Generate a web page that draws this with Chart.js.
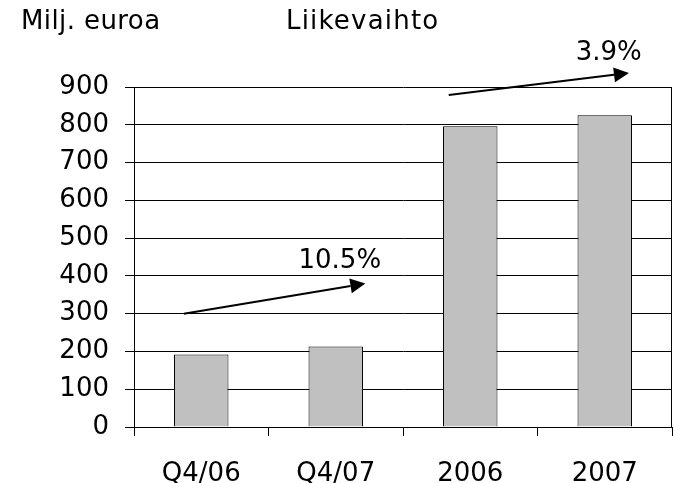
<!DOCTYPE html>
<html><head><meta charset="utf-8">
<script src="https://cdn.jsdelivr.net/npm/chart.js@4"></script>
<style>html,body{margin:0;padding:0;background:#fff;}#wrap{width:674px;height:483px;}</style>
</head><body><div id="wrap"><canvas id="c" width="674" height="483"></canvas></div>
<script>
// ---- data ----
const categories = ['Q4/06', 'Q4/07', '2006', '2007'];
const revenue = [192, 213, 796, 825];
const yTickValues = [0, 100, 200, 300, 400, 500, 600, 700, 800, 900];
const unitLabel = 'Milj. euroa';
const chartTitle = 'Liikevaihto';
const growthLabels = ['10.5%', '3.9%'];
// growth arrows, in data units: [category index, value]
const arrowFrom = [[-0.13, 300], [1.84, 879]];
const arrowTo = [[1.22, 380], [3.18, 937]];
const growthLabelAt = [[1.03, 439], [3.03, 990]];

const FONT = 'DejaVu Sans';
Chart.defaults.font.family = FONT;
Chart.defaults.font.size = 26;
Chart.defaults.color = '#000';

const extras = {
  id: 'extras',
  afterDraw(chart) {
    const {ctx, chartArea, scales: {x, y}} = chart;
    ctx.save();
    // right border of plot area
    ctx.strokeStyle = '#000';
    ctx.lineWidth = 1;
    ctx.beginPath();
    ctx.moveTo(chartArea.right - 0.5, chartArea.top);
    ctx.lineTo(chartArea.right - 0.5, chartArea.bottom);
    ctx.stroke();
    // titles
    ctx.fillStyle = '#000';
    ctx.font = '26px "' + FONT + '"';
    ctx.textBaseline = 'alphabetic';
    ctx.textAlign = 'left';
    ctx.letterSpacing = '0.4px';
    ctx.fillText(unitLabel, 21, 28.5);
    ctx.letterSpacing = '1.2px';
    ctx.fillText(chartTitle, 286, 28.5);
    ctx.letterSpacing = '0px';
    // arrows
    for (let i = 0; i < arrowFrom.length; i++) {
      const x0 = x.getPixelForValue(arrowFrom[i][0]);
      const y0 = y.getPixelForValue(arrowFrom[i][1]);
      const x1 = x.getPixelForValue(arrowTo[i][0]);
      const y1 = y.getPixelForValue(arrowTo[i][1]);
      const ang = Math.atan2(y1 - y0, x1 - x0);
      const L = 15, W = 7.5;
      const bx = x1 - L * Math.cos(ang), by = y1 - L * Math.sin(ang);
      ctx.lineWidth = 2;
      ctx.beginPath();
      ctx.moveTo(x0, y0);
      ctx.lineTo(bx, by);
      ctx.stroke();
      ctx.beginPath();
      ctx.moveTo(x1, y1);
      ctx.lineTo(bx - W * Math.sin(ang), by + W * Math.cos(ang));
      ctx.lineTo(bx + W * Math.sin(ang), by - W * Math.cos(ang));
      ctx.closePath();
      ctx.fill();
      ctx.textAlign = 'center';
      ctx.textBaseline = 'middle';
      ctx.fillText(growthLabels[i], x.getPixelForValue(growthLabelAt[i][0]), y.getPixelForValue(growthLabelAt[i][1]));
    }
    ctx.restore();
  }
};

new Chart(document.getElementById('c'), {
  type: 'bar',
  data: {
    labels: categories,
    datasets: [{
      data: revenue,
      backgroundColor: '#c0c0c0',
      borderColor: '#000',
      borderWidth: 1,
      barPercentage: 0.405,
      categoryPercentage: 1
    }]
  },
  options: {
    responsive: false,
    devicePixelRatio: 1,
    animation: false,
    layout: {padding: {top: 87, right: 2, left: 0, bottom: 0}},
    plugins: {legend: {display: false}, tooltip: {enabled: false}, title: {display: false}},
    scales: {
      x: {
        grid: {drawOnChartArea: false, drawTicks: true, tickLength: 9, color: '#000', offset: true},
        border: {color: '#000'},
        ticks: {padding: 23, color: '#000', font: {size: 26}},
        afterFit(s) { s.height = 56; }
      },
      y: {
        min: 0, max: 900,
        afterBuildTicks(s) { s.ticks = yTickValues.map(v => ({value: v})); },
        grid: {color: '#000', tickLength: 9},
        border: {color: '#000'},
        ticks: {padding: 16, color: '#000', font: {size: 26}},
        afterFit(s) { s.width = 134; }
      }
    }
  },
  plugins: [extras]
});
</script></body></html>
